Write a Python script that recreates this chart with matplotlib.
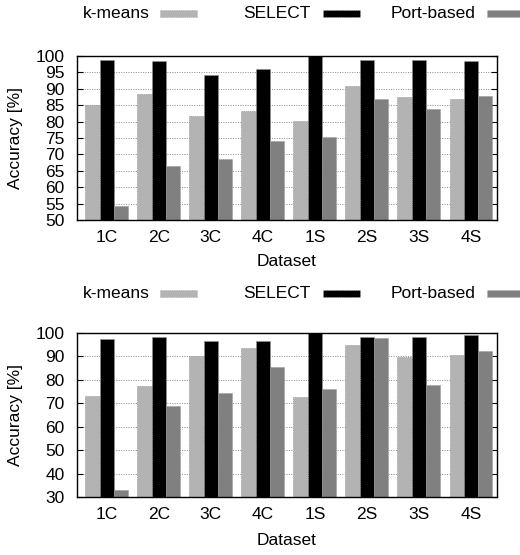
import numpy as np
import matplotlib.pyplot as plt
from matplotlib.patches import Rectangle

datasets = ['1C', '2C', '3C', '4C', '1S', '2S', '3S', '4S']
series_names = ['k-means', 'SELECT', 'Port-based']
series_colors = ['#b3b3b3', '#000000', '#808080']

# top panel
top_kmeans = [85.0, 88.4, 81.8, 83.3, 80.1, 90.9, 87.6, 86.8]
top_select = [98.9, 98.5, 94.2, 95.9, 100.0, 98.9, 98.9, 98.5]
top_port = [54.3, 66.6, 68.5, 74.1, 75.4, 86.8, 83.9, 87.9]

# bottom panel
bot_kmeans = [73.0, 77.5, 90.3, 93.5, 72.8, 94.9, 89.6, 90.5]
bot_select = [97.6, 98.4, 96.4, 96.4, 100.0, 98.4, 98.4, 99.3]
bot_port = [33.1, 69.0, 74.4, 85.5, 76.2, 98.0, 78.0, 92.5]

plt.rcParams['font.family'] = ['Liberation Sans', 'DejaVu Sans']
fs = 12.5

W, H = 520, 555
fig = plt.figure(figsize=(W / 100, H / 100), dpi=100)


def px(x, y):
    return x / W, 1 - y / H


def draw_legend(ycen):
    # gnuplot style key: label then sample box
    items = [(150, 160), (311, 323), (475, 487)]
    for (tx, bx), name, col in zip(items, series_names, series_colors):
        fx, fy = px(tx, ycen)
        fig.text(fx, fy, name, ha='right', va='center', fontsize=fs)
        rx, ry = px(bx, ycen + 3.5)
        fig.patches.append(Rectangle((rx, ry), 37 / W, 7 / H, transform=fig.transFigure,
                                     facecolor=col, edgecolor='#aaaaaa', lw=0.6,
                                     linestyle=':', clip_on=False))


def draw_panel(rect, series, ylim, step, xlab_y):
    ax = fig.add_axes(rect)
    x = np.arange(len(datasets))
    w = 0.275
    for k, (vals, col) in enumerate(zip(series, series_colors)):
        ax.bar(x + (k - 1) * w, np.array(vals) - ylim[0], bottom=ylim[0], width=w,
               color=col, edgecolor='#999999', linewidth=0.5, linestyle=(0, (2, 1)),
               zorder=3)
    ax.set_xlim(-0.57, 7.5)
    ax.set_ylim(*ylim)
    ax.set_yticks(np.arange(ylim[0], ylim[1] + 1, step))
    ax.set_xticks(x)
    ax.set_xticklabels(datasets)
    ax.tick_params(axis='x', length=0, pad=7, labelsize=fs)
    ax.tick_params(axis='y', direction='in', length=4, right=True, labelsize=fs, pad=9)
    ax.grid(True, axis='y', color='#888888', linestyle=(0, (1, 1.5)), linewidth=0.7, zorder=0)
    for s in ax.spines.values():
        s.set_linewidth(1.0)
        s.set_zorder(5)
    ax.set_xlabel('Dataset', fontsize=fs, va='top')
    ax.xaxis.set_label_coords(0.5, xlab_y)
    ax.set_ylabel('Accuracy [%]', fontsize=fs)
    ax.yaxis.set_label_coords(-0.128, 0.5)
    return ax


draw_legend(13)
draw_panel([77 / W, 1 - 220 / H, 420 / W, 164 / H],
           [top_kmeans, top_select, top_port], (50, 100), 5, -0.205)

draw_legend(293)
draw_panel([77 / W, 1 - 497 / H, 420 / W, 164 / H],
           [bot_kmeans, bot_select, bot_port], (30, 100), 10, -0.222)

fig.savefig('out.png', dpi=100, facecolor='white')
